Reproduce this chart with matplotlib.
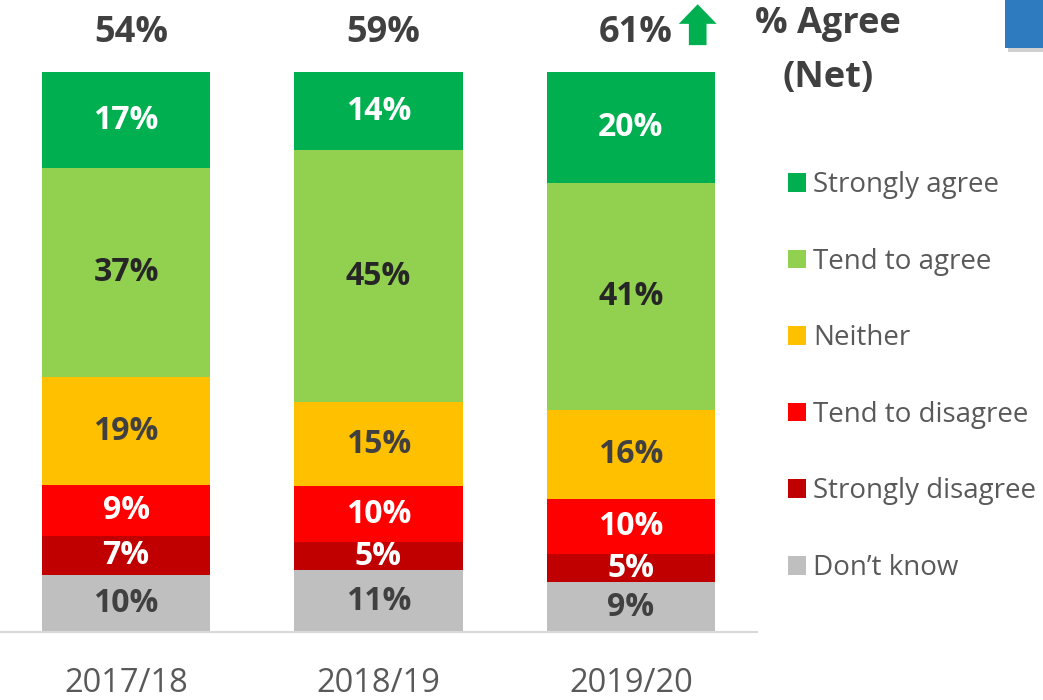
#!/usr/bin/env python3

import numpy as np
import matplotlib as mpl
import matplotlib.pyplot as plt
from matplotlib.patches import Patch, Polygon, Rectangle

years = ["2017/18", "2018/19", "2019/20"]
categories = ["Don\u2019t know", "Strongly disagree", "Tend to disagree",
              "Neither", "Tend to agree", "Strongly agree"]
dont_know = [10, 11, 9]
strongly_disagree = [7, 5, 5]
tend_to_disagree = [9, 10, 10]
neither = [19, 15, 16]
tend_to_agree = [37, 45, 41]
strongly_agree = [17, 14, 20]
net_agree = [54, 59, 61]

colors = ["#BFBFBF", "#C00000", "#FF0000", "#FFC000", "#92D050", "#00B050"]
label_colors = ["#404040", "white", "white", "#404040", "#262626", "white"]

mpl.rcParams['font.family'] = ['Open Sans', 'DejaVu Sans']

fig = plt.figure(figsize=(10.43, 7.0), dpi=100)
ax = fig.add_axes([0.0, 68 / 700, 757 / 1043, 560 / 700])

series = np.array([dont_know, strongly_disagree, tend_to_disagree,
                   neither, tend_to_agree, strongly_agree], dtype=float)
# every bar fills the full height (100% stacked)
shares = series / series.sum(axis=0) * 100
x = np.arange(len(years))
bottom = np.zeros(len(years))
handles = []
for i, name in enumerate(categories):
    ax.bar(x, shares[i], 0.667, bottom=bottom, color=colors[i],
           edgecolor='none')
    for j in range(len(years)):
        ax.text(x[j], bottom[j] + shares[i][j] / 2, f"{int(series[i][j])}%",
                ha='center', va='center', fontsize=23, fontweight='bold',
                color=label_colors[i])
    bottom += shares[i]
    handles.append(Patch(facecolor=colors[i], label=name))

for j in range(len(years)):
    ax.text(x[j] + 0.02, 106.9, f"{net_agree[j]}%", ha='center',
            va='center', fontsize=26, fontweight='bold', color='#404040',
            clip_on=False)

# green "up" arrow beside the latest net score
ax_ = x[-1]
arrow = Polygon([[ax_ + 0.23, 104.8], [ax_ + 0.23, 108.6], [ax_ + 0.19, 108.6],
                 [ax_ + 0.265, 112.1], [ax_ + 0.34, 108.6], [ax_ + 0.30, 108.6],
                 [ax_ + 0.30, 104.8]],
                closed=True, facecolor='#00B050', edgecolor='none',
                clip_on=False)
ax.add_patch(arrow)

ax.set_xlim(-0.5, 2.5)
ax.set_ylim(0, 100)
ax.set_xticks(x)
ax.set_xticklabels(years, fontsize=23.5, color='#595959')
ax.tick_params(axis='x', length=0, pad=25)
ax.set_yticks([])
for s in ['top', 'right', 'left']:
    ax.spines[s].set_visible(False)
ax.spines['bottom'].set_color('#D9D9D9')
ax.spines['bottom'].set_linewidth(1.5)

fig.text(828 / 1043, 1 - 51 / 700, "% Agree\n(Net)", ha='center',
         va='center', fontsize=26, fontweight='bold', color='#404040',
         linespacing=1.65)

leg = fig.legend(handles=handles[::-1], loc='upper left',
                 bbox_to_anchor=(788 / 1043, 1 - 171 / 700), frameon=False,
                 fontsize=20, handlelength=0.65, handleheight=0.65,
                 handletextpad=0.25, labelspacing=1.75, borderpad=0,
                 borderaxespad=0)
for t in leg.get_texts():
    t.set_color('#595959')

# partial blue box in the top right corner
fig.patches.append(Rectangle((1008 / 1043, 1 - 52 / 700), 0.05, 0.08,
                             transform=fig.transFigure, facecolor='#D0D0D0',
                             edgecolor='none', zorder=1))
fig.patches.append(Rectangle((1005 / 1043, 1 - 48 / 700), 0.05, 0.08,
                             transform=fig.transFigure, facecolor='#2E7BC0',
                             edgecolor='none', zorder=2))

plt.savefig("out.png", dpi=100)
